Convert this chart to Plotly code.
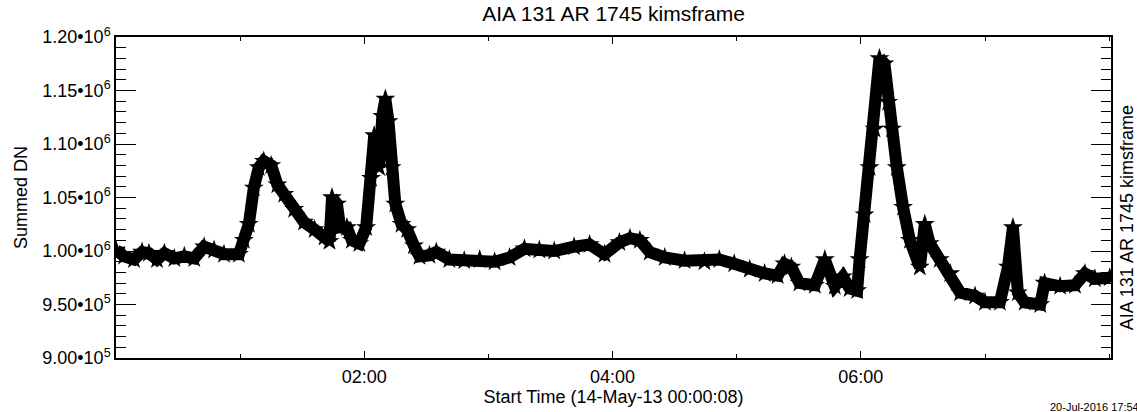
import plotly.graph_objects as go

# Time since start (hours) and summed DN values
hours = [0.00, 0.065, 0.145, 0.21, 0.265, 0.33, 0.39, 0.47, 0.55, 0.63, 0.71, 0.79, 0.87, 0.99,
         1.03, 1.07, 1.11, 1.15, 1.19, 1.25, 1.30, 1.355, 1.435, 1.515, 1.60, 1.68, 1.72,
         1.74, 1.78, 1.805, 1.86, 1.90, 1.96, 2.015, 2.055, 2.08, 2.105, 2.12, 2.145, 2.17,
         2.195, 2.22, 2.25, 2.30, 2.345, 2.40, 2.445, 2.525, 2.58, 2.685, 2.805, 2.93, 3.05,
         3.17, 3.29, 3.41, 3.53, 3.69, 3.815, 3.935, 4.055, 4.14, 4.22, 4.30, 4.42, 4.58,
         4.74, 4.86, 4.98, 5.105, 5.225, 5.33, 5.385, 5.44, 5.505, 5.63, 5.71, 5.79, 5.855,
         5.91, 5.97, 5.99, 6.03, 6.07, 6.11, 6.15, 6.19, 6.22, 6.25, 6.29, 6.34, 6.395,
         6.475, 6.515, 6.555, 6.635, 6.72, 6.80, 6.92, 7.00, 7.12, 7.185, 7.225, 7.265,
         7.32, 7.445, 7.48, 7.605, 7.725, 7.805, 7.885, 8.005]

summed_dn = [1.001e6, 0.995e6, 0.992e6, 0.999e6, 0.998e6, 0.992e6, 0.998e6, 0.993e6, 0.995e6,
             0.993e6, 1.004e6, 1.001e6, 0.997e6, 0.997e6,
             1.010e6, 1.025e6, 1.059e6, 1.078e6, 1.084e6, 1.080e6, 1.062e6, 1.053e6, 1.039e6,
             1.027e6, 1.020e6, 1.013e6, 1.009e6,
             1.050e6, 1.044e6, 1.022e6, 1.022e6, 1.010e6, 1.007e6, 1.022e6, 1.068e6, 1.108e6,
             1.099e6, 1.078e6, 1.126e6, 1.142e6,
             1.121e6, 1.078e6, 1.044e6, 1.025e6, 1.020e6, 1.005e6, 0.995e6, 0.996e6, 0.999e6,
             0.992e6, 0.991e6, 0.992e6, 0.990e6,
             0.994e6, 1.002e6, 1.001e6, 1.000e6, 1.004e6, 1.006e6, 0.997e6, 1.008e6, 1.012e6,
             1.010e6, 0.999e6, 0.994e6, 0.991e6,
             0.990e6, 0.992e6, 0.988e6, 0.983e6, 0.979e6, 0.977e6, 0.988e6, 0.985e6, 0.970e6,
             0.968e6, 0.992e6, 0.967e6, 0.976e6,
             0.965e6, 0.963e6, 0.992e6, 1.034e6, 1.078e6, 1.114e6, 1.180e6, 1.175e6, 1.139e6,
             1.114e6, 1.078e6, 1.041e6, 1.010e6,
             0.985e6, 1.025e6, 1.007e6, 0.992e6, 0.979e6, 0.961e6, 0.958e6, 0.952e6, 0.952e6,
             0.985e6, 1.022e6, 0.961e6,
             0.952e6, 0.950e6, 0.970e6, 0.967e6, 0.968e6, 0.979e6, 0.974e6, 0.975e6]

x_tick_vals = [2, 4, 6]
x_tick_text = ["02:00", "04:00", "06:00"]
y_tick_vals = [0.90e6, 0.95e6, 1.00e6, 1.05e6, 1.10e6, 1.15e6, 1.20e6]
y_tick_text = ["9.00•10<sup>5</sup>", "9.50•10<sup>5</sup>", "1.00•10<sup>6</sup>",
               "1.05•10<sup>6</sup>", "1.10•10<sup>6</sup>", "1.15•10<sup>6</sup>",
               "1.20•10<sup>6</sup>"]

title_text = "AIA 131 AR 1745 kimsframe"
x_title = "Start Time (14-May-13 00:00:08)"
y_title = "Summed DN"
date_stamp = "20-Jul-2016 17:54"

W, H = 1137, 412
L, R, T, B = 116, 26, 37, 49
FONT = "Liberation Sans, Arial, Helvetica, sans-serif"

fig = go.Figure()
fig.add_trace(go.Scatter(
    x=hours, y=summed_dn, mode="lines+markers",
    line=dict(color="black", width=12),
    marker=dict(symbol="star", size=15, color="black"),
    showlegend=False, hoverinfo="skip"))

plot_h = H - T - B
plot_w = W - L - R

fig.update_layout(
    width=W, height=H,
    margin=dict(l=L, r=R, t=T, b=B),
    paper_bgcolor="white", plot_bgcolor="white",
    font=dict(family=FONT, size=18, color="black"),
    title=dict(text=title_text, x=(L + plot_w / 2) / W, xanchor="center",
               y=1 - 14 / H, yanchor="middle", font=dict(size=21, family=FONT)),
    xaxis=dict(range=[0, 8.015], tickmode="array", tickvals=x_tick_vals, ticktext=x_tick_text,
               ticks="inside", ticklen=7, tickwidth=1.2, tickcolor="black",
               showline=True, linecolor="black", linewidth=1.5, mirror="ticks",
               showgrid=False, zeroline=False, ticklabelstandoff=2,
               minor=dict(tickmode="linear", tick0=0, dtick=1, ticks="inside", ticklen=4,
                          tickcolor="black", tickwidth=1.2, showgrid=False),
               title=dict(text=x_title, standoff=0, font=dict(size=18)),
               tickfont=dict(size=18)),
    yaxis=dict(range=[0.90e6, 1.20e6], tickmode="array", tickvals=y_tick_vals,
               ticktext=y_tick_text,
               ticks="inside", ticklen=20, tickwidth=1.2, tickcolor="black",
               showline=True, linecolor="black", linewidth=1.5, mirror="ticks",
               showgrid=False, zeroline=False,
               minor=dict(tickmode="linear", tick0=0.9e6, dtick=1e4, ticks="inside",
                          ticklen=10, tickcolor="black", tickwidth=1.2, showgrid=False),
               title=dict(text=y_title, standoff=10, font=dict(size=18)),
               tickfont=dict(size=18)),
    annotations=[
        dict(text=title_text, xref="paper", yref="paper",
             x=(1127 - L) / plot_w, y=(H - B - 221) / plot_h,
             xanchor="center", yanchor="middle", textangle=-90, showarrow=False,
             font=dict(size=18, family=FONT)),
        dict(text=date_stamp, xref="paper", yref="paper",
             x=(1048 - L) / plot_w, y=(H - B - 405) / plot_h,
             xanchor="left", yanchor="top", showarrow=False,
             font=dict(size=11, family=FONT)),
    ],
)

fig.write_html("out.html", config={"displayModeBar": False},
               post_script="document.body.style.margin='0';document.body.style.overflow='hidden';")
